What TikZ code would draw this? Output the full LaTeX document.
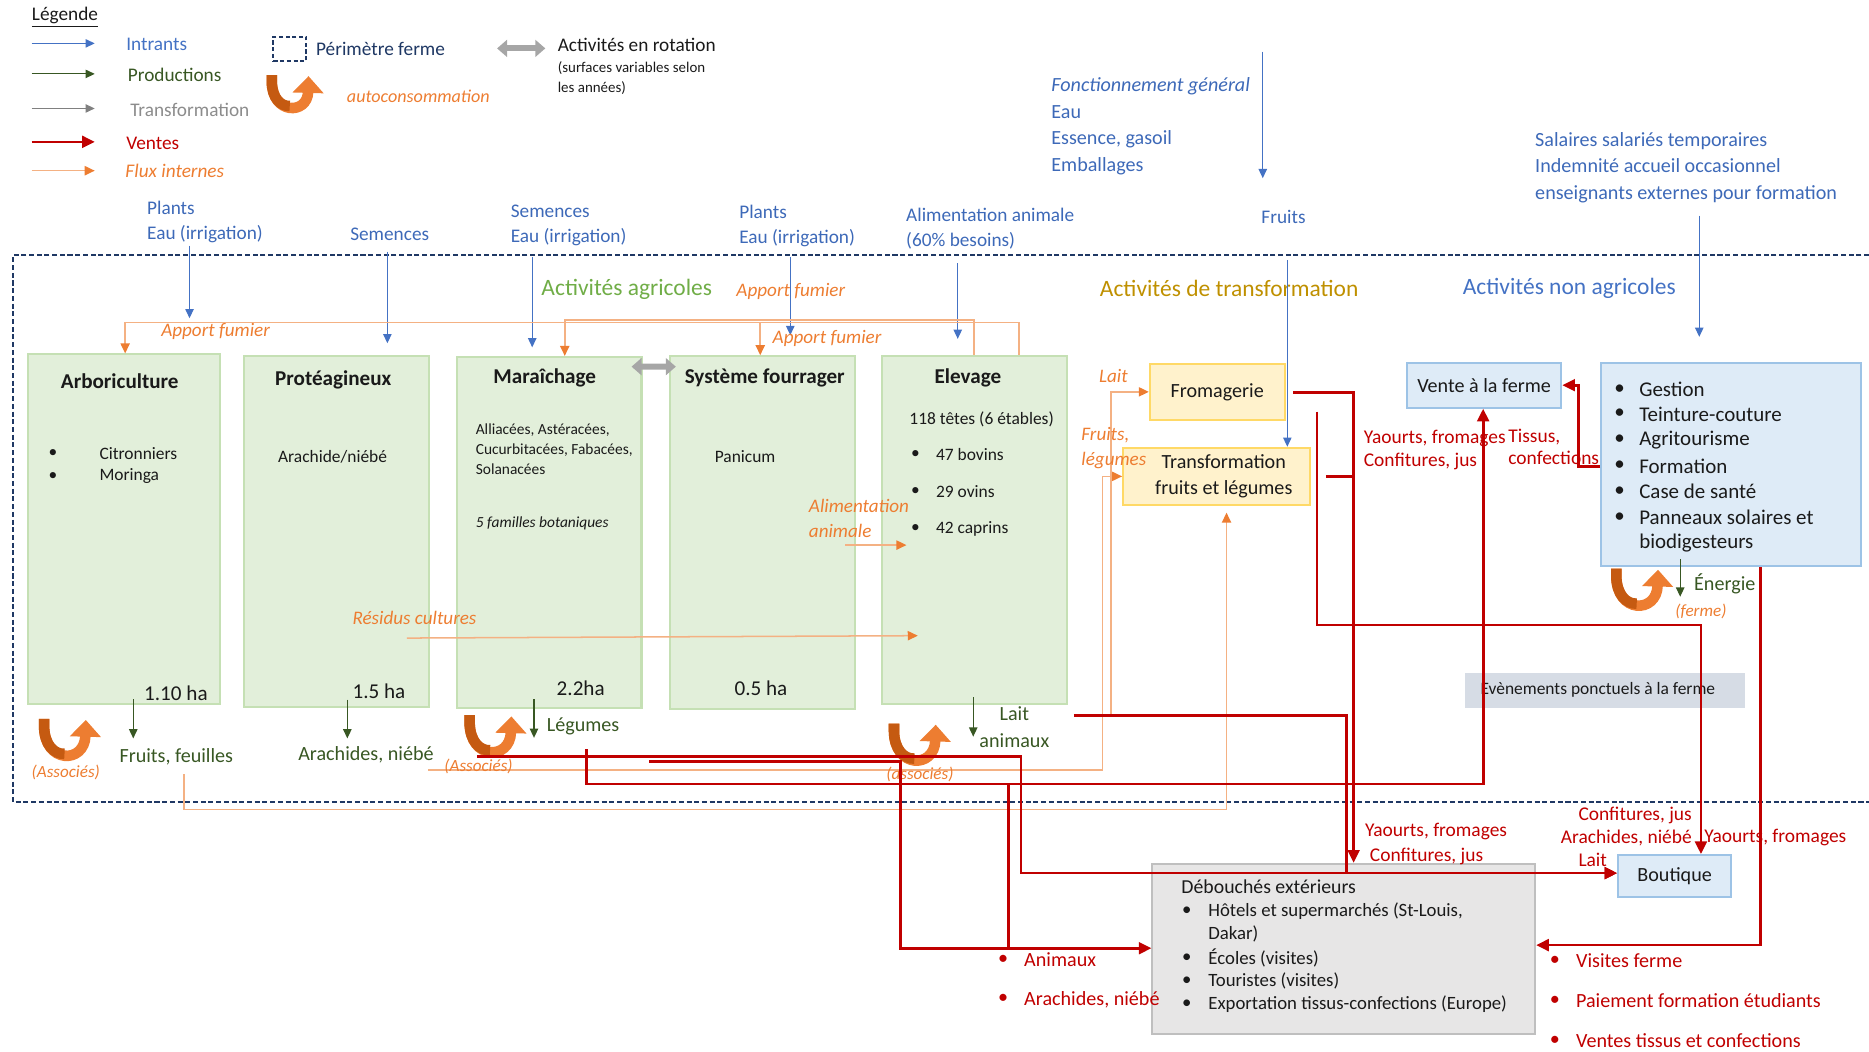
\documentclass[tikz,border=0pt]{standalone}
\usepackage{fontspec}
\setmainfont{Carlito}
\usetikzlibrary{arrows.meta,positioning}

\definecolor{cBlue}{HTML}{4472C4}
\definecolor{cBlueT}{HTML}{3D69B8}
\definecolor{cNavy}{HTML}{1F3864}
\definecolor{cGreenH}{HTML}{70AD47}
\definecolor{cGreenD}{HTML}{385723}
\definecolor{cGold}{HTML}{BF9000}
\definecolor{cRed}{HTML}{C00000}
\definecolor{cOrange}{HTML}{ED7D31}
\definecolor{cOrangeD}{HTML}{C55A11}
\definecolor{cOrangeL}{HTML}{F4B183}
\definecolor{cGrayT}{HTML}{8C8C8C}
\definecolor{cRot}{HTML}{A6A6A6}
\definecolor{cGreenF}{HTML}{E2EFDA}
\definecolor{cGreenB}{HTML}{C5E0B4}
\definecolor{cYelF}{HTML}{FFF2CC}
\definecolor{cYelB}{HTML}{FFD966}
\definecolor{cBlueF}{HTML}{DEEBF7}
\definecolor{cBlueB}{HTML}{9DC3E6}
\definecolor{cGrayF}{HTML}{E7E6E6}
\definecolor{cGrayB}{HTML}{BFBFBF}
\definecolor{cEvent}{HTML}{D6DCE5}
\definecolor{cText}{HTML}{1A1A1A}

\tikzset{
  txt/.style={inner sep=0pt, anchor=west, align=left, text=cText},
  fLeg/.style={font=\fontsize{11.5pt}{14.9pt}\selectfont},
  fLegIt/.style={font=\itshape\fontsize{11.5pt}{14.9pt}\selectfont},
  fGen/.style={font=\fontsize{12pt}{15.8pt}\selectfont},
  fHead/.style={font=\fontsize{14pt}{17pt}\selectfont},
  fTtl/.style={font=\bfseries\fontsize{12.6pt}{15pt}\selectfont},
  fMid/.style={font=\fontsize{10.4pt}{13pt}\selectfont},
  fSml/.style={font=\fontsize{9.2pt}{11.8pt}\selectfont},
  fSmlIt/.style={font=\itshape\fontsize{9.2pt}{11.8pt}\selectfont},
  fSub/.style={font=\fontsize{8.9pt}{11.8pt}\selectfont},
  fHa/.style={font=\fontsize{12.6pt}{15pt}\selectfont},
  fOr/.style={font=\itshape\fontsize{11.4pt}{15.4pt}\selectfont, text=cOrange},
  fAs/.style={font=\itshape\fontsize{10.2pt}{12pt}\selectfont, text=cOrange},
  fProd/.style={font=\fontsize{12pt}{15.6pt}\selectfont, text=cGreenD},
  fBox/.style={font=\fontsize{12pt}{15.6pt}\selectfont},
  fNa/.style={font=\fontsize{12.5pt}{15.2pt}\selectfont},
  fDb/.style={font=\fontsize{11.2pt}{13.9pt}\selectfont},
  fRed/.style={font=\fontsize{11.6pt}{13.8pt}\selectfont, text=cRed},
  fRedB/.style={font=\fontsize{12pt}{14pt}\selectfont, text=cRed},
  intrant/.style={draw=cBlue, line width=0.7pt, -{Triangle[length=5.5pt,width=5pt]}},
  prod/.style={draw=cGreenD, line width=0.7pt, -{Triangle[length=5.5pt,width=5pt]}},
  transf/.style={draw=gray, line width=0.7pt, -{Triangle[length=5.5pt,width=5pt]}},
  vente/.style={draw=cRed, line width=1.6pt, -{Triangle[length=7.5pt,width=7pt]}},
  ventel/.style={draw=cRed, line width=1.6pt},
  flux/.style={draw=cOrangeL, line width=0.9pt, -{Triangle[length=6pt,width=5.5pt,color=cOrange]}},
  perim/.style={draw=cNavy, line width=1pt, dash pattern=on 3pt off 1.6pt},
  rot/.style={draw=cRot, line width=3.5pt, {Triangle[length=6pt,width=10pt]}-{Triangle[length=6pt,width=10pt]}},
  uturnline/.style={draw=cOrange, line width=6.3pt, -{Triangle[length=10pt,width=18pt]}},
  uturndark/.style={draw=cOrangeD, line width=6.3pt},
  agribox/.style={draw=cGreenB, line width=1.2pt, fill=cGreenF, anchor=north west, inner sep=0pt},
  transbox/.style={draw=cYelB, line width=1.2pt, fill=cYelF, anchor=north west, inner sep=0pt, align=center, fBox, text=cText},
  nabox/.style={draw=cBlueB, line width=1.2pt, fill=cBlueF, anchor=north west, inner sep=0pt, fBox, text=cText},
}

\newcommand{\uturn}[3][1]{%
  \begin{scope}[shift={(#2,#3)}, scale=#1]
    \draw[uturnline] (8,0) -- (8,6) .. controls (8,38) and (42,38) .. (43,1);
    \draw[uturndark] (8,0) -- (8,6) .. controls (8,22) and (16.75,30) .. (25.1,29.4);
  \end{scope}}

\begin{document}
\begin{tikzpicture}[x=0.025cm, y=-0.025cm]
\useasboundingbox (0,0) rectangle (1568,882);

% legend
\node[txt, fLeg] (legTitle) at (26.5,14.5) {\underline{Légende}};
\coordinate (la) at (26.5,36.4); \coordinate (lb) at (79.5,36.4);
\draw[intrant] (la) -- (lb);
\node[txt, fLeg, text=cBlue] (legIn) at (105.7,37) {Intrants};
\coordinate (lc) at (26.5,62); \coordinate (ld) at (79.5,62);
\draw[prod] (lc) -- (ld);
\node[txt, fLeg, text=cGreenD] (legProd) at (107,63) {Productions};
\coordinate (le) at (26.5,91); \coordinate (lf) at (79.5,91);
\draw[transf] (le) -- (lf);
\node[txt, fLeg, text=cGrayT] (legTrans) at (109,92.3) {Transformation};
\coordinate (lg) at (26.5,119); \coordinate (lh) at (79.5,119);
\draw[vente] (lg) -- (lh);
\node[txt, fLeg, text=cRed] (legVente) at (105.7,120.3) {Ventes};
\coordinate (li) at (26.5,143.2); \coordinate (lj) at (79.5,143.2);
\draw[flux] (li) -- (lj);
\node[txt, fLegIt, text=cOrange] (legFlux) at (105,143.2) {Flux internes};

\node[draw=cNavy, line width=1.1pt, dash pattern=on 2.5pt off 1.5pt, minimum width=0.69cm, minimum height=0.51cm, anchor=north west, inner sep=0pt] (legSq) at (228.6,30) {};
\node[txt, fLeg, text=cNavy, right=0.18cm of legSq] (legPerim) {Périmètre ferme};
\uturn[0.88]{221}{63}
\node[txt, font=\itshape\fontsize{10.8pt}{13pt}\selectfont, text=cOrange] (legAuto) at (290.8,81.1) {autoconsommation};
\coordinate (lr1) at (417,40.6); \coordinate (lr2) at (457.5,40.6);
\draw[rot] (lr1) -- (lr2);
\node[txt, fLeg] (legRot) at (467.7,37.8) {Activités en rotation};
\node[txt, fSub] (legRotSub) at (467.7,65.6) {(surfaces variables selon\\les années)};

% intrants
\node[txt, fLeg, text=cBlueT] (inArbo) at (123.2,186) {Plants\\Eau (irrigation)};
\node[txt, fLeg, text=cBlueT] (inProt) at (293.6,196.6) {Semences};
\node[txt, fLeg, text=cBlueT] (inMara) at (428.3,189.5) {Semences\\Eau (irrigation)};
\node[txt, fLeg, text=cBlueT] (inFour) at (620,189.5) {Plants\\Eau (irrigation)};
\node[txt, fLeg, text=cBlueT] (inElev) at (760,191.5) {Alimentation animale\\(60\% besoins)};
\node[txt, fGen, text=cBlueT] (inGen) at (881.8,106) {\textit{Fonctionnement général}\\Eau\\Essence, gasoil\\Emballages};
\node[txt, fLeg, text=cBlueT] (inFruit) at (1058,182) {Fruits};
\node[txt, fGen, text=cBlueT] (inSal) at (1287.7,140.6) {Salaires salariés temporaires\\Indemnité accueil occasionnel\\enseignants externes pour formation};

% perimetre ferme
\coordinate (pTR) at (1568,214); \coordinate (pTL) at (11,214);
\coordinate (pBL) at (11,673); \coordinate (pBR) at (1568,673);
\draw[perim] (pTR) -- (pTL) -- (pBL) -- (pBR);

\node[txt, fHead, text=cGreenH] (hAgri) at (454,242.5) {Activités agricoles};
\node[txt, fHead, text=cGold] (hTrans) at (922.5,241.8) {Activités de transformation};
\node[txt, fHead, text=cBlue] (hNa) at (1227,241.8) {Activités non agricoles};

% activites agricoles
\node[agribox, minimum width=4.025cm, minimum height=7.34cm] (arbo) at (22.5,296.5) {};
\node[agribox, minimum width=3.89cm, minimum height=7.35cm] (prot) at (203.5,298) {};
\node[agribox, minimum width=3.875cm, minimum height=7.36cm] (mara) at (382.3,298.6) {};
\node[agribox, minimum width=3.88cm, minimum height=7.4cm] (four) at (561,298) {};
\node[agribox, minimum width=3.895cm, minimum height=7.31cm] (elev) at (738.8,297.5) {};

\node[inner sep=0pt, fTtl, text=cText] (tArbo) at (100.5,320) {Arboriculture};
\node[inner sep=0pt, fTtl, text=cText] (tProt) at (279.6,319) {Protéagineux};
\node[inner sep=0pt, fTtl, text=cText] (tMara) at (457,316.6) {Maraîchage};
\node[inner sep=0pt, fTtl, text=cText] (tFour) at (641.6,317.4) {Système fourrager};
\node[inner sep=0pt, fTtl, text=cText] (tElev) at (812,317.4) {Elevage};

\node[txt, fMid] (arbB1) at (40.5,380.4) {\textbullet};
\node[txt, fMid] (arbB2) at (40.5,399.4) {\textbullet};
\node[txt, fMid] (arb1) at (83.2,380.4) {Citronniers};
\node[txt, fMid] (arb2) at (83.2,399.4) {Moringa};
\node[inner sep=0pt, fMid, text=cText] (prot1) at (279,383) {Arachide/niébé};
\node[txt, fSml] (mara1) at (398.9,377) {Alliacées, Astéracées,\\Cucurbitacées, Fabacées,\\Solanacées};
\node[txt, fSmlIt] (mara2) at (398.9,439) {5 familles botaniques};
\node[txt, fMid] (four1) at (599.4,383) {Panicum};
\node[txt, fMid] (elev0) at (762.7,351.5) {118 têtes (6 étables)};
\node[txt, fMid] (elvB1) at (764,381.7) {\textbullet};
\node[txt, fMid] (elvB2) at (764,412.5) {\textbullet};
\node[txt, fMid] (elvB3) at (764,443.8) {\textbullet};
\node[txt, fMid] (elev1) at (785,381.7) {47 bovins};
\node[txt, fMid] (elev2) at (785,412.5) {29 ovins};
\node[txt, fMid] (elev3) at (785,443.8) {42 caprins};

\node[txt, fHa] (haArbo) at (120.7,581.7) {1.10 ha};
\node[txt, fHa] (haProt) at (295.5,580.3) {1.5 ha};
\node[txt, fHa] (haMara) at (466.8,577.5) {2.2ha};
\node[txt, fHa] (haFour) at (616,577.5) {0.5 ha};

\draw[rot] ([xshift=-0.23cm,yshift=-0.225cm]mara.north east) -- ([xshift=0.15cm,yshift=-0.24cm]four.north west);

% activites de transformation
\node[transbox, minimum width=2.825cm, minimum height=1.18cm] (fromag) at (963.8,304.3) {Fromagerie};
\node[transbox, minimum width=3.92cm, minimum height=1.2cm] (transfo) at (941.4,374.8) {\hspace*{0.3cm}Transformation\\\hspace*{0.3cm}fruits et légumes};

% activites non agricoles
\node[nabox, minimum width=3.24cm, minimum height=0.945cm] (vente) at (1179.4,303.4) {Vente à la ferme};
\node[nabox, minimum width=5.45cm, minimum height=4.265cm] (nonagri) at (1342.5,303.4) {};
\node[txt, fNa] (naB1) at (1354,326.6) {\textbullet};
\node[txt, fNa] (naB2) at (1354,347.3) {\textbullet};
\node[txt, fNa] (naB3) at (1354,369.2) {\textbullet};
\node[txt, fNa] (naB4) at (1354,391) {\textbullet};
\node[txt, fNa] (naB5) at (1354,412.5) {\textbullet};
\node[txt, fNa] (naB6) at (1354,434.3) {\textbullet};
\node[txt, fNa] (na1) at (1375,326.6) {Gestion};
\node[txt, fNa] (na2) at (1375,347.3) {Teinture-couture};
\node[txt, fNa] (na3) at (1375,369.2) {Agritourisme};
\node[txt, fNa] (na4) at (1375,391) {Formation};
\node[txt, fNa] (na5) at (1375,412.5) {Case de santé};
\node[txt, fNa] (na6) at (1375,434.3) {Panneaux solaires et};
\node[txt, fNa] (na7) at (1375,455.8) {biodigesteurs};

\node[anchor=north west, fill=cEvent, minimum width=5.875cm, minimum height=0.725cm, inner sep=0pt] (event) at (1229,564.4) {};
\node[txt, font=\fontsize{10.4pt}{12pt}\selectfont] (eventTxt) at (1241.8,579) {Evènements ponctuels à la ferme};

% debouches
\node[anchor=north west, draw=cGrayB, line width=1.2pt, fill=cGrayF, minimum width=8.025cm, minimum height=3.56cm, inner sep=0pt] (debouch) at (966,723.8) {};
\node[txt, font=\fontsize{11.8pt}{14pt}\selectfont] (db0) at (990.9,744) {Débouchés extérieurs};
\node[txt, fDb] (dbB1) at (991.5,764.3) {\textbullet};
\node[txt, fDb] (dbB2) at (991.5,803.5) {\textbullet};
\node[txt, fDb] (dbB3) at (991.5,823) {\textbullet};
\node[txt, fDb] (dbB4) at (991.5,842.6) {\textbullet};
\node[txt, fDb] (db1) at (1013.5,764.3) {Hôtels et supermarchés (St-Louis,};
\node[txt, fDb] (db2) at (1013.5,783.6) {Dakar)};
\node[txt, fDb] (db3) at (1013.5,803.5) {Écoles (visites)};
\node[txt, fDb] (db4) at (1013.5,823) {Touristes (visites)};
\node[txt, fDb] (db5) at (1013.5,842.6) {Exportation tissus-confections (Europe)};
\node[nabox, minimum width=2.37cm, minimum height=0.875cm] (boutique) at (1356.7,716.5) {Boutique};

% intrants
\coordinate (iA) at (159,206); \coordinate (iAe) at (159,267);
\draw[intrant] (iA) -- (iAe);
\coordinate (iB) at (325,211);
\draw[intrant, shorten >=0.25cm] (iB) -- (iB |- prot.north);
\coordinate (iC) at (446.5,216);
\draw[intrant, shorten >=0.18cm] (iC) -- (iC |- mara.north);
\coordinate (iD) at (663,216);
\draw[intrant, shorten >=0.42cm] (iD) -- (iD |- four.north);
\coordinate (iE) at (803.5,221);
\draw[intrant, shorten >=0.33cm] (iE) -- (iE |- elev.north);
\coordinate (iF) at (1059.4,43.4); \coordinate (iFe) at (1059.4,149.5);
\draw[intrant] (iF) -- (iFe);
\coordinate (iG) at (1080,218);
\draw[intrant] (iG) -- (iG |- transfo.north);
\coordinate (iH) at (1425.6,181);
\draw[intrant, shorten >=0.52cm] (iH) -- (iH |- nonagri.north);

% flux internes
\coordinate (fA) at (855,270.7); \coordinate (fB) at (105,270.7); \coordinate (fC) at (637.8,270.7);
\draw[flux] (elev.north -| fA) -- (fA) -- (fB) -- (fB |- arbo.north);
\draw[flux] (fC) -- (fC |- four.north);
\coordinate (fD) at (817,268.3); \coordinate (fE) at (473.8,268.3);
\draw[flux] (elev.north -| fD) -- (fD) -- (fE) -- (fE |- mara.north);
\node[txt, fOr] (fum1) at (135,278) {Apport fumier};
\node[txt, fOr] (fum2) at (617.6,244.7) {Apport fumier};
\node[txt, fOr] (fum3) at (648,283.7) {Apport fumier};

\coordinate (alA) at (709,457.3); \coordinate (alB) at (760.5,457.3);
\draw[flux] (alA) -- (alB);
\node[txt, fOr] (lAlim) at (678.4,435) {Alimentation\\animale};
\coordinate (reA) at (341.4,535.3); \coordinate (reB) at (770,533.3);
\draw[flux] (reA) -- (reB);
\node[txt, fOr] (lRes) at (295.5,518) {Résidus cultures};

\coordinate (ffA) at (154.2,649.4); \coordinate (ffB) at (154.2,679.2); \coordinate (ffC) at (1029,679.2);
\draw[flux, shorten >=0.14cm] (ffA) -- (ffB) -- (ffC) -- (ffC |- transfo.south);
\coordinate (lgA) at (359,646); \coordinate (lgB) at (925,646);
\draw[flux] (lgA) -- (lgB) -- (lgB |- transfo.west) -- (transfo.west);
\coordinate (ltA) at (932,600);
\draw[flux] (ltA) -- (ltA |- fromag.west) -- (fromag.west);
\node[txt, fOr] (lLait) at (921.8,315.5) {Lait};
\node[txt, font=\itshape\fontsize{11.4pt}{14.7pt}\selectfont, text=cOrange] (lFruit) at (907,376) {Fruits,\\légumes};

% productions
\coordinate (pA) at (111.8,586.8); \coordinate (pAe) at (111.8,619.5);
\draw[prod] (pA) -- (pAe);
\coordinate (pB) at (291.4,587); \coordinate (pBe) at (291.4,619.5);
\draw[prod] (pB) -- (pBe);
\coordinate (pC) at (448,586.5); \coordinate (pCe) at (448,619);
\draw[prod] (pC) -- (pCe);
\coordinate (pD) at (816.5,585); \coordinate (pDe) at (816.5,618);
\draw[prod] (pD) -- (pDe);
\coordinate (pE) at (1409.6,468.8); \coordinate (pEe) at (1409.6,500.6);
\draw[prod] (pE) -- (pEe);
\node[txt, fProd] (prArbo) at (100,634.8) {Fruits, feuilles};
\node[txt, fProd] (prProt) at (250,633.4) {Arachides, niébé};
\node[txt, fProd] (prMara) at (458.5,609.7) {Légumes};
\node[inner sep=0pt, fProd, align=center] (prElev) at (851,610) {Lait\\animaux};
\node[txt, fProd] (prNa) at (1421,489.4) {Énergie};

% autoconsommation
\uturn{29}{603}
\uturn{386}{600}
\uturn{742}{607}
\uturn{1348}{477}
\node[inner sep=0pt, fAs] (asArbo) at (55.2,648.3) {(Associés)};
\node[inner sep=0pt, fAs] (asMara) at (401.5,643) {(Associés)};
\node[inner sep=0pt, fAs] (asElev) at (771.8,650) {(associés)};
\node[inner sep=0pt, fAs] (asNa) at (1427,513) {(ferme)};

% ventes
\coordinate (r1a) at (400,634.8); \coordinate (r1b) at (856.5,634.8); \coordinate (r1c) at (856.5,732.5);
\draw[vente] (r1a) -- (r1b) -- (r1c) -- (r1c -| boutique.west);
\coordinate (r2a) at (544.5,638.8); \coordinate (r2b) at (755.4,638.8); \coordinate (r2c) at (755.4,795.5);
\draw[vente] (r2a) -- (r2b) -- (r2c) -- (r2c -| debouch.west);
\coordinate (r3a) at (492,628.7); \coordinate (r3b) at (492,657.8); \coordinate (r3c) at (1244.3,657.8);
\draw[vente] (r3a) -- (r3b) -- (r3c) -- (r3c |- vente.south);
\coordinate (r4a) at (845.9,658.6);
\draw[ventel] (r4a) -- (r4a |- r2c);
\coordinate (r5a) at (901,600.5); \coordinate (r5b) at (1129.4,600.5);
\draw[vente] (r5a) -- (r5b) -- (r5b |- r1c) -- (r1c -| boutique.west);
\coordinate (r6s) at (1085,329.5); \coordinate (r6a) at (1135.6,329.5);
\draw[vente] (r6s) -- (r6a) -- (r6a |- debouch.north);
\coordinate (r6t) at (1112.3,400);
\draw[ventel] (r6t) -- (r6t -| r6a);
\coordinate (r7a) at (1105,345.4); \coordinate (r7b) at (1105,524.4); \coordinate (r7c) at (1427,524.4);
\draw[vente] (r7a) -- (r7b) -- (r7c) -- (r7c |- boutique.north);
\coordinate (r8a) at (1324.4,391.5);
\draw[vente] (nonagri.west |- r8a) -- (r8a) -- (r8a |- vente.east) -- (vente.east);
\coordinate (r9a) at (1477.2,792.9);
\draw[vente] (r9a |- nonagri.south) -- (r9a) -- (r9a -| debouch.east);

\node[txt, fRed] (rl1) at (1143.9,377.5) {Yaourts, fromages\\Confitures, jus};
\node[txt, font=\fontsize{11.6pt}{13.3pt}\selectfont, text=cRed] (rl2) at (1265.2,375) {Tissus,\\confections};
\node[txt, fRed] (rl3) at (1145,697.8) {Yaourts, fromages};
\node[txt, fRed] (rl4) at (1149,718.7) {Confitures, jus};
\node[txt, anchor=east, align=right, font=\fontsize{11.6pt}{13.9pt}\selectfont, text=cRed] (rl5) at (1419.6,693.6) {Confitures, jus\\Arachides, niébé};
\node[txt, fRed] (rl6) at (1324,721) {Lait};
\node[txt, fRed] (rl7) at (1429.6,702.5) {Yaourts, fromages};
\node[txt, fRedB] (rlB1) at (837,805) {\textbullet};
\node[txt, fRedB] (rlB2) at (837,838.4) {\textbullet};
\node[txt, fRedB] (rl8) at (859,805) {Animaux};
\node[txt, fRedB] (rl9) at (859,838.4) {Arachides, niébé};
\node[txt, fRedB] (rlB3) at (1300,806) {\textbullet};
\node[txt, fRedB] (rlB4) at (1300,839.6) {\textbullet};
\node[txt, fRedB] (rlB5) at (1300,873.2) {\textbullet};
\node[txt, fRedB] (rl10) at (1322,806) {Visites ferme};
\node[txt, fRedB] (rl11) at (1322,839.6) {Paiement formation étudiants};
\node[txt, fRedB] (rl12) at (1322,873.2) {Ventes tissus et confections};
\end{tikzpicture}
\end{document}
